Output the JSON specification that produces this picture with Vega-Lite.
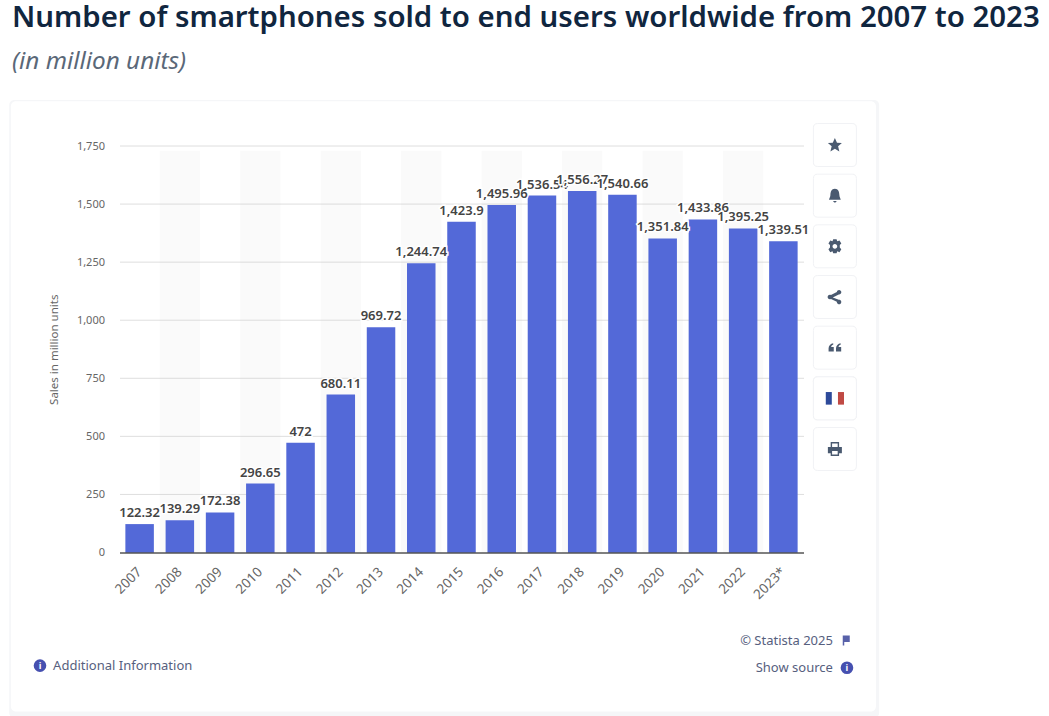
{
"$schema":"https://vega.github.io/schema/vega-lite/v6.json",
"width":684,"height":406.5,
"autosize":{"type":"none"},
"padding":{"left":119.5,"top":146,"right":245.5,"bottom":163.5},
"background":"white",
"config":{"view":{"stroke":null},"font":"Noto Sans"},
"title":{"text":"Number of smartphones sold to end users worldwide from 2007 to 2023","subtitle":"(in million units)","anchor":"start","frame":"group","dx":-107.5,"offset":25,"font":"Noto Sans","fontSize":29.4,"fontWeight":600,"color":"#10263f","subtitleFont":"Noto Sans","subtitleFontSize":24.3,"subtitleFontStyle":"italic","subtitleColor":"#5a6878","subtitlePadding":16},
"datasets":{"sales":[
{"year":"2007","sales":122.32},{"year":"2008","sales":139.29},{"year":"2009","sales":172.38},{"year":"2010","sales":296.65},{"year":"2011","sales":472},{"year":"2012","sales":680.11},{"year":"2013","sales":969.72},{"year":"2014","sales":1244.74},{"year":"2015","sales":1423.9},{"year":"2016","sales":1495.96},{"year":"2017","sales":1536.54},{"year":"2018","sales":1556.27},{"year":"2019","sales":1540.66},{"year":"2020","sales":1351.84},{"year":"2021","sales":1433.86},{"year":"2022","sales":1395.25},{"year":"2023*","sales":1339.51}],
"tools":[{"icon":"star","glyph":"star"},{"icon":"bell","glyph":"bell"},{"icon":"gear","glyph":"gear"},{"icon":"share","glyph":"share"},{"icon":"quote","glyph":"quote"},{"icon":"flag","glyph":"flagBlue"},{"icon":"flag","glyph":"flagRed"},{"icon":"print","glyph":"print"}]},
"layer":[
{"layer":[
 {"data":{"values":[{"t":"shadow"}]},"mark":{"type":"rect","fill":"#f5f6f8","cornerRadius":5},"encoding":{"x":{"datum":-2.74,"type":"quantitative","scale":{"domain":[0,17],"nice":false,"zero":false},"axis":null},"x2":{"datum":18.88},"y":{"datum":1948,"type":"quantitative","scale":{"domain":[0,1750],"nice":false},"axis":null},"y2":{"datum":-712}}},
 {"data":{"values":[{"t":"card"}]},"mark":{"type":"rect","fill":"#ffffff","cornerRadius":5},"encoding":{"x":{"datum":-2.70,"type":"quantitative","axis":null},"x2":{"datum":18.8},"y":{"datum":1943,"type":"quantitative","axis":null},"y2":{"datum":-685}}},
 {"data":{"values":[{"t":"Additional Information"}]},"mark":{"type":"text","align":"left","baseline":"middle","fontSize":13,"color":"#56607e"},"encoding":{"x":{"datum":-1.65,"type":"quantitative","axis":null},"y":{"datum":-487,"type":"quantitative","axis":null},"text":{"field":"t"}}},
 {"data":{"values":[{"t":"© Statista 2025"}]},"mark":{"type":"text","align":"right","baseline":"middle","fontSize":13,"color":"#56607e"},"encoding":{"x":{"datum":17.73,"type":"quantitative","axis":null},"y":{"datum":-379,"type":"quantitative","axis":null},"text":{"field":"t"}}},
 {"data":{"values":[{"t":"Show source"}]},"mark":{"type":"text","align":"right","baseline":"middle","fontSize":13,"color":"#56607e"},"encoding":{"x":{"datum":17.73,"type":"quantitative","axis":null},"y":{"datum":-496,"type":"quantitative","axis":null},"text":{"field":"t"}}},
 {"data":{"values":[{"t":"info"}]},"mark":{"type":"point","shape":"circle","filled":true,"size":160,"color":"#4650b0","opacity":1},"encoding":{"x":{"datum":-1.976,"type":"quantitative","axis":null},"y":{"datum":-487,"type":"quantitative","axis":null}}},
 {"data":{"values":[{"t":"info"}]},"mark":{"type":"point","shape":"circle","filled":true,"size":160,"color":"#4650b0","opacity":1},"encoding":{"x":{"datum":18.08,"type":"quantitative","axis":null},"y":{"datum":-496,"type":"quantitative","axis":null}}},
 {"data":{"values":[{"t":"i"}]},"mark":{"type":"text","fontSize":9,"fontWeight":"bold","color":"white","align":"center","baseline":"middle"},"encoding":{"x":{"datum":-1.976,"type":"quantitative","axis":null},"y":{"datum":-487,"type":"quantitative","axis":null},"text":{"field":"t"}}},
 {"data":{"values":[{"t":"i"}]},"mark":{"type":"text","fontSize":9,"fontWeight":"bold","color":"white","align":"center","baseline":"middle"},"encoding":{"x":{"datum":18.08,"type":"quantitative","axis":null},"y":{"datum":-496,"type":"quantitative","axis":null},"text":{"field":"t"}}},
 {"data":{"values":[{"t":"flag"}]},"mark":{"type":"point","filled":true,"size":400,"color":"#4650a0","opacity":0.9,"shape":"M-.3,-.5H.4V.15H-.15V.5H-.3Z"},"encoding":{"x":{"datum":18.05,"type":"quantitative","axis":null},"y":{"datum":-379,"type":"quantitative","axis":null}}}
]},
{"data":{"name":"tools"},"layer":[
 {"mark":{"type":"point","filled":true,"size":7396,"fill":"#ffffff","stroke":"#f1f2f5","strokeWidth":1,"opacity":1,"shape":"M-.4,-.5H.4Q.5,-.5 .5,-.4V.4Q.5,.5 .4,.5H-.4Q-.5,.5 -.5,.4V-.4Q-.5,-.5 -.4,-.5Z"},"encoding":{"x":{"datum":17.78,"type":"quantitative","scale":{"domain":[0,17],"nice":false,"zero":false},"axis":null},"y":{"field":"icon","type":"nominal","scale":{"type":"point","padding":0,"domain":["star","bell","gear","share","quote","flag","print"],"range":[-1,303]},"axis":null}}},
 {"mark":{"type":"point","filled":true,"size":784,"opacity":1},"encoding":{"x":{"datum":17.78,"type":"quantitative","axis":null},"y":{"field":"icon","type":"nominal","axis":null},
  "shape":{"field":"glyph","type":"nominal","legend":null,"scale":{"domain":["star","bell","gear","share","quote","flagBlue","flagRed","print"],"range":[
  "M0,-.5L.15,-.16 .5,-.14 .23,.09 .32,.46 0,.26 -.32,.46 -.23,.09 -.5,-.14 -.15,-.16Z",
  "M0,-.5C.25,-.5 .32,-.25 .32,-.05 .32,.12 .42,.2 .42,.3H-.42C-.42,.2 -.32,.12 -.32,-.05 -.32,-.25 -.25,-.5 0,-.5ZM-.12,.38H.12C.1,.52 -.1,.52 -.12,.38Z",
  "M-.12,-.5H.12L.17,-.36 .33,-.42 .46,-.2 .35,-.09V.09L.46,.2 .33,.42 .17,.36 .12,.5H-.12L-.17,.36 -.33,.42 -.46,.2 -.35,.09V-.09L-.46,-.2 -.33,-.42 -.17,-.36ZM0,-.17A.17,.17 0 0 0 0,.17A.17,.17 0 0 0 0,-.17Z",
  "M.3,-.5A.16,.16 0 1 1 .3,-.18L.28,-.18 -.15,.04 .28,.2 .3,.2A.16,.16 0 1 1 .14,.34L-.28,.14A.16,.16 0 1 1 -.28,-.14L.14,-.36A.16,.16 0 0 1 .3,-.5Z",
  "M-.45,.05C-.45,-.15 -.3,-.3 -.12,-.32V-.2C-.2,-.18 -.26,-.12 -.27,-.04H-.08V.28H-.45ZM.08,.05C.08,-.15 .23,-.3 .41,-.32V-.2C.33,-.18 .27,-.12 .26,-.04H.45V.28H.08Z",
  "M-.65,-.45H-.22V.45H-.65Z",
  "M.22,-.45H.65V.45H.22Z",
  "M-.3,-.5H.3V-.15H.5V.3H.3V.5H-.3V.3H-.5V-.15H-.3ZM-.2,-.4V-.15H.2V-.4ZM-.2,.15V.4H.2V.15Z"
  ]}},
  "color":{"field":"glyph","type":"nominal","legend":null,"scale":{"domain":["star","bell","gear","share","quote","flagBlue","flagRed","print"],"range":["#4a5a70","#4a5a70","#4a5a70","#4a5a70","#4a5a70","#2d4a9a","#c04a44","#4a5a70"]}}}}
]},
{"layer":[
 {"data":{"name":"sales"},"transform":[{"filter":{"field":"year","oneOf":["2008","2010","2012","2014","2016","2018","2020","2022"]}}],"mark":{"type":"rect","fill":"#fafafa"},"encoding":{"x":{"field":"year","type":"nominal","sort":null,"scale":{"type":"band","domain":["2007","2008","2009","2010","2011","2012","2013","2014","2015","2016","2017","2018","2019","2020","2021","2022","2023*"],"paddingInner":0,"paddingOuter":0}},"y":{"datum":0,"type":"quantitative","scale":{"domain":[0,1750],"nice":false}},"y2":{"datum":1730}}},
 {"data":{"values":[{"g":250},{"g":500},{"g":750},{"g":1000},{"g":1250},{"g":1500},{"g":1750}]},"mark":{"type":"rule","color":"#bdbdbd","strokeDash":[1,1],"strokeWidth":1},"encoding":{"y":{"field":"g","type":"quantitative"}}},
 {"data":{"name":"sales"},"mark":{"type":"bar","fill":"#5369d8","width":28.5},"encoding":{"x":{"field":"year","type":"nominal","sort":null,"axis":{"title":null,"ticks":false,"domain":true,"domainColor":"#000000","domainWidth":1,"labelAngle":-45,"labelAlign":"right","labelBaseline":"middle","labelPadding":17,"labelOffset":0,"labelFont":"Noto Sans","labelFontSize":13.5,"labelColor":"#666666","grid":false,"zindex":1}},"y":{"field":"sales","type":"quantitative","axis":{"title":"Sales in million units","titleFont":"Noto Sans","titleFontSize":11.5,"titleFontWeight":"normal","titleColor":"#666666","titlePadding":17,"domain":false,"ticks":false,"grid":false,"zindex":1,"values":[0,250,500,750,1000,1250,1500,1750],"format":",.0f","labelFont":"Noto Sans","labelFontSize":11,"labelColor":"#666666","labelPadding":15}}}},
 {"data":{"name":"sales"},"transform":[{"filter":{"not":{"field":"year","oneOf":["2018","2019","2022","2023*"]}}}],"mark":{"type":"text","dy":-4,"fontSize":13,"fontWeight":600,"fill":"white","stroke":"white","strokeWidth":3,"baseline":"bottom"},"encoding":{"x":{"field":"year","type":"nominal","sort":null},"y":{"field":"sales","type":"quantitative"},"text":{"field":"sales","format":",.2~f"}}},
 {"data":{"name":"sales"},"transform":[{"filter":{"not":{"field":"year","oneOf":["2018","2019","2022","2023*"]}}}],"mark":{"type":"text","dy":-4,"fontSize":13,"fontWeight":600,"fill":"#444444","baseline":"bottom"},"encoding":{"x":{"field":"year","type":"nominal","sort":null},"y":{"field":"sales","type":"quantitative"},"text":{"field":"sales","format":",.2~f"}}},
 {"data":{"name":"sales"},"transform":[{"filter":{"field":"year","oneOf":["2018","2022"]}}],"mark":{"type":"text","dy":-4,"fontSize":13,"fontWeight":600,"fill":"white","stroke":"white","strokeWidth":3,"baseline":"bottom"},"encoding":{"x":{"field":"year","type":"nominal","sort":null},"y":{"field":"sales","type":"quantitative"},"text":{"field":"sales","format":",.2~f"}}},
 {"data":{"name":"sales"},"transform":[{"filter":{"field":"year","oneOf":["2018","2022"]}}],"mark":{"type":"text","dy":-4,"fontSize":13,"fontWeight":600,"fill":"#444444","baseline":"bottom"},"encoding":{"x":{"field":"year","type":"nominal","sort":null},"y":{"field":"sales","type":"quantitative"},"text":{"field":"sales","format":",.2~f"}}},
 {"data":{"name":"sales"},"transform":[{"filter":{"field":"year","oneOf":["2019","2023*"]}}],"mark":{"type":"text","dy":-4,"fontSize":13,"fontWeight":600,"fill":"white","stroke":"white","strokeWidth":3,"baseline":"bottom"},"encoding":{"x":{"field":"year","type":"nominal","sort":null},"y":{"field":"sales","type":"quantitative"},"text":{"field":"sales","format":",.2~f"}}},
 {"data":{"name":"sales"},"transform":[{"filter":{"field":"year","oneOf":["2019","2023*"]}}],"mark":{"type":"text","dy":-4,"fontSize":13,"fontWeight":600,"fill":"#444444","baseline":"bottom"},"encoding":{"x":{"field":"year","type":"nominal","sort":null},"y":{"field":"sales","type":"quantitative"},"text":{"field":"sales","format":",.2~f"}}}
]}
],
"resolve":{"scale":{"x":"independent","y":"independent","shape":"independent","color":"independent"},"axis":{"x":"independent","y":"independent"}}
}
